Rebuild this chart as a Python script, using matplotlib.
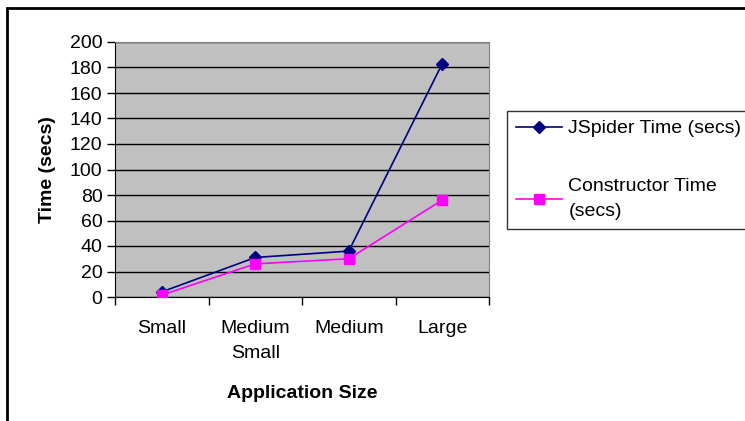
import numpy as np
import matplotlib.pyplot as plt
from matplotlib.patches import Rectangle

plt.rcParams['font.family'] = ['Liberation Sans', 'DejaVu Sans']

# application sizes and timings
sizes = ['Small', 'Medium\nSmall', 'Medium', 'Large']
jspider_time = [4, 31, 36, 183]
constructor_time = [1.5, 26, 30, 76]

fig = plt.figure(figsize=(7.45, 4.21), dpi=100)
W, H = 745, 421

# outer chart border
fig.patches.append(Rectangle((7 / W, -0.1), 1.0, (H - 8) / H + 0.1,
                             transform=fig.transFigure, fill=False,
                             edgecolor='black', linewidth=2))

ax = fig.add_axes([115 / W, 1 - 297 / H, (489 - 115) / W, (297 - 42) / H])
ax.set_facecolor('#c0c0c0')

x = np.arange(len(sizes)) + 0.5
ax.plot(x, jspider_time, color='#000080', marker='D', markersize=6,
        linewidth=1.2, label='JSpider Time (secs)', zorder=3)
ax.plot(x, constructor_time, color='#ff00ff', marker='s', markersize=7,
        linewidth=1.2, label='Constructor Time\n(secs)', zorder=3)

ax.set_xlim(0, 4)
ax.set_ylim(0, 200)
ax.set_yticks(range(0, 201, 20))
ax.set_xticks(range(0, 5))
ax.set_xticklabels([])
ax.set_xticks(x, minor=True)
ax.set_xticklabels(sizes, minor=True, fontsize=14, linespacing=1.6)
ax.tick_params(axis='x', which='minor', length=0, pad=16.5)
ax.tick_params(axis='x', which='major', direction='out', length=6, width=1)
ax.tick_params(axis='y', direction='out', length=6, width=1, labelsize=14, pad=3)

ax.grid(axis='y', color='black', linewidth=1)
ax.set_axisbelow(True)
for side in ['top', 'right']:
    ax.spines[side].set_color('#808080')
for side in ['left', 'bottom']:
    ax.spines[side].set_color('black')

ax.set_ylabel('Time (secs)', fontsize=14, fontweight='bold', labelpad=10)
ax.set_xlabel('Application Size', fontsize=14, fontweight='bold', labelpad=17)

leg = fig.legend(loc='upper left', bbox_to_anchor=(507 / W, 1 - 111 / H),
                 fontsize=14, frameon=True, fancybox=False, edgecolor='black',
                 handlelength=2.4, labelspacing=2.1, borderpad=0.45,
                 handletextpad=0.3, borderaxespad=0)
leg.get_frame().set_linewidth(1)
for t in leg.get_texts():
    t.set_linespacing(1.6)

fig.savefig('out.png', dpi=100)
